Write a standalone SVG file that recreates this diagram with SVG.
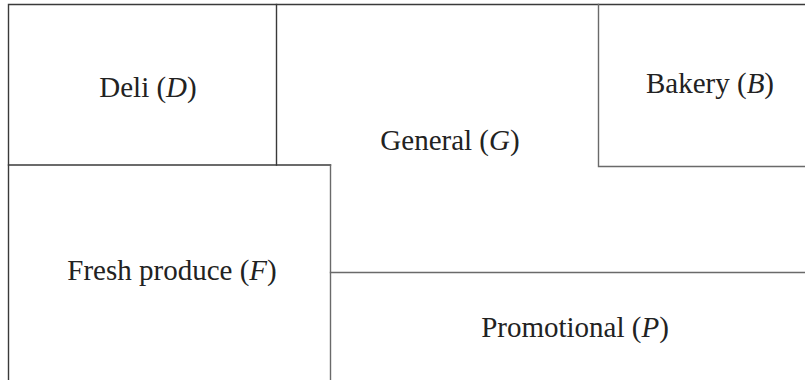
<svg xmlns="http://www.w3.org/2000/svg" width="805" height="380" viewBox="0 0 805 380">
<style>
.w{stroke:#3a3a3a;stroke-width:1.4;fill:none;stroke-linecap:square}
.g{stroke:#6a6a6a}
text{font-family:"Liberation Serif","Times New Roman",serif;font-size:29px;fill:#222;text-anchor:middle}
.i{font-style:italic}
</style>
<rect width="805" height="380" fill="#fff"/>
<g id="walls">
<path class="w" d="M8.5,380 V4.5 H805"/>
<path class="w" d="M276.5,4.5 V165"/>
<path class="w" d="M8.5,165 H330.5"/>
<path class="w g" d="M330.5,165 V380"/>
<path class="w g" d="M598.5,4.5 V166.5 H805"/>
<path class="w g" d="M330.5,272.5 H805"/>
</g>
<g id="deli"><text x="148" y="97">Deli (<tspan class="i">D</tspan>)</text></g>
<g id="general"><text x="450" y="150">General (<tspan class="i">G</tspan>)</text></g>
<g id="bakery"><text x="710" y="93">Bakery (<tspan class="i">B</tspan>)</text></g>
<g id="fresh"><text x="172" y="280">Fresh produce (<tspan class="i">F</tspan>)</text></g>
<g id="promo"><text x="575" y="337">Promotional (<tspan class="i">P</tspan>)</text></g>
</svg>
